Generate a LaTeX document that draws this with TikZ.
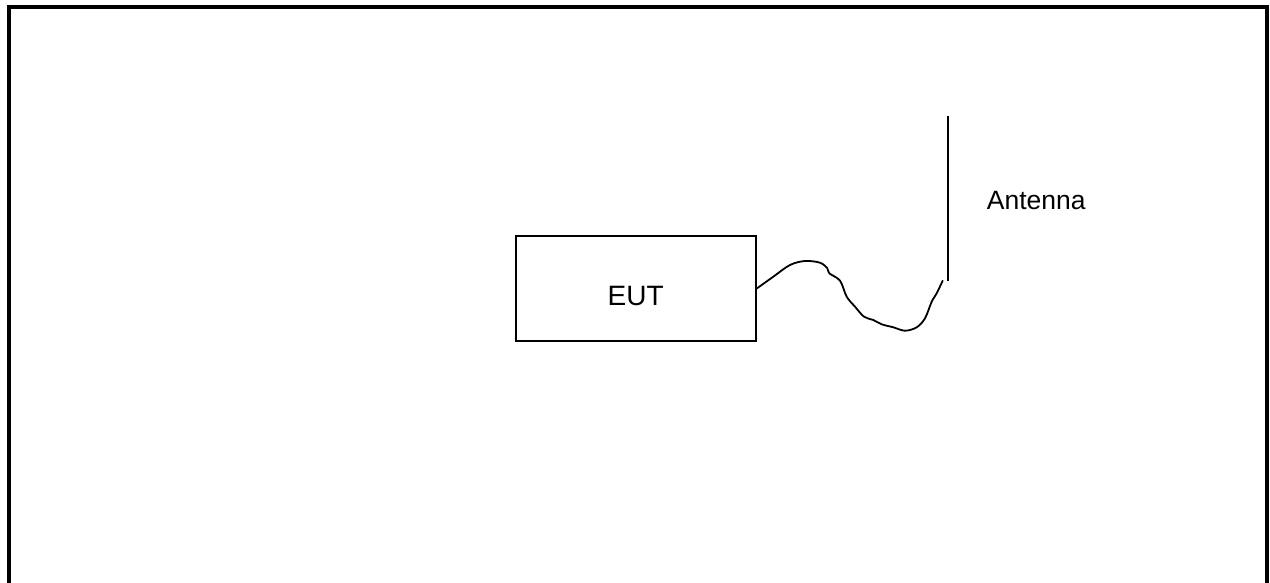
\documentclass[tikz,border=0pt]{standalone}
\usepackage{fontspec}
\setmainfont{Liberation Sans}
\begin{document}
\begin{tikzpicture}[x=1pt,y=-1pt,
  frameline/.style={line width=3.5pt,line cap=butt,line join=miter},
  unitbox/.style={draw,line width=1.5pt,minimum width=240pt,minimum height=105pt,inner sep=0pt},
  wire/.style={line width=1.8pt,line cap=round},
  mast/.style={line width=2pt},
  lbl/.style={inner sep=0pt,font=\fontsize{28}{30}\selectfont},
  smalllbl/.style={inner sep=0pt,font=\fontsize{26.5}{28}\selectfont}]
\useasboundingbox (0,0) rectangle (1270,583);
\fill[white] (0,0) rectangle (1270,583);
% outer frame, open at the bottom
\draw[frameline] (9,583) -- (9,7) -- (1267,7) -- (1267,583);
% equipment under test
\node[unitbox] (eut) at (636,288.5) {};
\node[lbl] (euttext) at (635.7,296.5) {EUT};
% antenna mast
\coordinate (anttop) at (948,116);
\coordinate (antbot) at (948,280.5);
\draw[mast] (anttop) -- (antbot);
\node[smalllbl,anchor=base west] (antlabel) at (986.7,209.3) {Antenna};
% cable from the unit towards the antenna foot
\coordinate (cableend) at (942.7,280.7);
\draw[wire] plot[smooth,tension=0.55] coordinates {
  (eut.east) (773.3,276.7) (790,265) (805,261) (820,262.7) (827.3,268.3)
  (829.3,273.3) (840,280.7) (846.7,296.7) (855,306.7) (864,316.7)
  (873.3,320) (881.7,324.3) (893.3,327.3) (905,330.7) (916.7,327.3)
  (925,318.3) (931.7,301.7) (936.7,293.3) (cableend)};
\end{tikzpicture}
\end{document}
